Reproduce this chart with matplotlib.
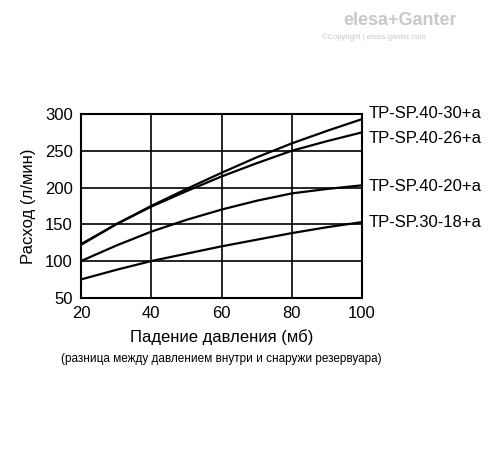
import matplotlib.pyplot as plt

# Data
pressure = [20, 30, 40, 50, 60, 70, 80, 90, 100]
flow_40_30 = [123, 150, 175, 198, 220, 241, 260, 277, 293]
flow_40_26 = [122, 150, 174, 195, 215, 233, 250, 263, 275]
flow_40_20 = [100, 121, 140, 156, 170, 182, 192, 198, 203]
flow_30_18 = [75, 88, 100, 110, 120, 129, 138, 146, 153]
series = [('TP-SP.40-30+a', flow_40_30), ('TP-SP.40-26+a', flow_40_26),
          ('TP-SP.40-20+a', flow_40_20), ('TP-SP.30-18+a', flow_30_18)]
label_y = [300, 266, 201, 153]

plt.rcParams['font.family'] = ['Liberation Sans', 'DejaVu Sans']
fig = plt.figure(figsize=(4.88, 4.54), dpi=100)
ax = fig.add_axes([0.166, 0.344, 0.576, 0.405])

for (name, vals), ly in zip(series, label_y):
    ax.plot(pressure, vals, color='black', linewidth=1.6)
    ax.text(102, ly, name, fontsize=12, va='center', ha='left', clip_on=False)

ax.set_xlim(20, 100)
ax.set_ylim(50, 300)
ax.set_xticks([20, 40, 60, 80, 100])
ax.set_yticks([50, 100, 150, 200, 250, 300])
ax.grid(True, color='black', linewidth=1.2)
for s in ax.spines.values():
    s.set_linewidth(1.5)
ax.tick_params(length=0, labelsize=12, pad=6)
ax.set_xlabel('Падение давления (мб)', fontsize=12, labelpad=6)
ax.set_ylabel('Расход (л/мин)', fontsize=12, labelpad=6)
fig.text(0.454, 0.203, '(разница между давлением внутри и снаружи резервуара)',
         fontsize=8.5, ha='center')

# Watermark
fig.text(0.935, 0.945, 'elesa+Ganter', fontsize=13, color='#c8c8c8', ha='right', weight='bold')
fig.text(0.66, 0.915, '©Copyright | elesa-ganter.com', fontsize=5.5, color='#c8c8c8')

fig.savefig('out.png', dpi=100)
